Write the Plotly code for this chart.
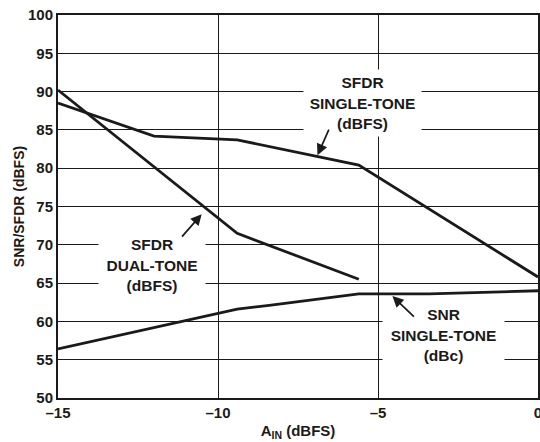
import plotly.graph_objects as go

# datos
ain_sfdr_single = [-15, -12.0, -9.4, -5.6, 0]
sfdr_single = [88.5, 84.2, 83.7, 80.4, 65.8]

ain_sfdr_dual = [-15, -9.4, -5.6]
sfdr_dual = [90.2, 71.5, 65.5]

ain_snr = [-15, -10, -9.4, -8.4, -5.6, -3.4, 0]
snr_single = [56.4, 61.1, 61.6, 62.1, 63.6, 63.6, 64.0]

x_ticks = [-15, -10, -5, 0]
x_ticktext = ["\u201315", "\u201310", "\u20135", "0"]
y_ticks = [50, 55, 60, 65, 70, 75, 80, 85, 90, 95, 100]

FONT = "Liberation Sans, Arial, Helvetica, sans-serif"
INK = "#1a1a1a"
line_style = dict(color=INK, width=2.8)

fig = go.Figure()
for xs, ys, name in [(ain_sfdr_single, sfdr_single, "SFDR single"),
                     (ain_sfdr_dual, sfdr_dual, "SFDR dual"),
                     (ain_snr, snr_single, "SNR single")]:
    fig.add_trace(go.Scatter(x=xs, y=ys, mode="lines", line=line_style,
                             name=name, showlegend=False))

# etiquetas con fondo blanco que tapan la rejilla
labels = [
    (-5.49, 88.5, "SFDR<br>SINGLE-TONE<br>(dBFS)", 115),
    (-12.07, 67.4, "SFDR<br>DUAL-TONE<br>(dBFS)", 104),
    (-2.96, 58.2, "SNR<br>SINGLE-TONE<br>(dBc)", 119),
]
for x, y, txt, w in labels:
    fig.add_annotation(x=x, y=y, text=txt, showarrow=False, bgcolor="white",
                       width=w, height=64, align="center",
                       font=dict(family=FONT, size=15.5, color=INK, weight=700))

# flechas
arrows = [(-6.89, 81.7, 12, -27), (-10.51, 74.0, -21, 24), (-4.55, 63.3, 23, 22)]
for x, y, ax, ay in arrows:
    fig.add_annotation(x=x, y=y, ax=ax, ay=ay, text="", showarrow=True,
                       arrowhead=2, arrowsize=1.3, arrowwidth=1.7, arrowcolor=INK)

axis_common = dict(showline=True, linecolor=INK, linewidth=2, mirror=True,
                   showgrid=True, gridcolor=INK, gridwidth=1, zeroline=False,
                   ticks="", ticklabeloverflow="allow",
                   tickfont=dict(family=FONT, size=15, color=INK, weight=700))

fig.update_xaxes(range=[-15, 0], tickvals=x_ticks, ticktext=x_ticktext,
                 title=dict(text="A<sub>IN</sub> (dBFS)", standoff=5,
                            font=dict(family=FONT, size=15, color=INK, weight=700)),
                 automargin=False, **axis_common)
fig.update_yaxes(range=[50, 100], tickvals=y_ticks,
                 title=dict(text="SNR/SFDR (dBFS)", standoff=0,
                            font=dict(family=FONT, size=14, color=INK, weight=700)),
                 automargin=False, **axis_common)

fig.update_layout(width=540, height=442, margin=dict(l=58, r=2, t=15, b=44),
                  plot_bgcolor="white", paper_bgcolor="white")

# quitar el margen del body para que la figura quede en (0, 0)
fix = ("document.body.style.margin='0px';"
       "document.body.style.overflow='hidden';"
       "Plotly.relayout(document.getElementById('{plot_id}'), {width: 540, height: 442});")
fig.write_html("out.html", config={"responsive": False, "displayModeBar": False},
               post_script=fix)
